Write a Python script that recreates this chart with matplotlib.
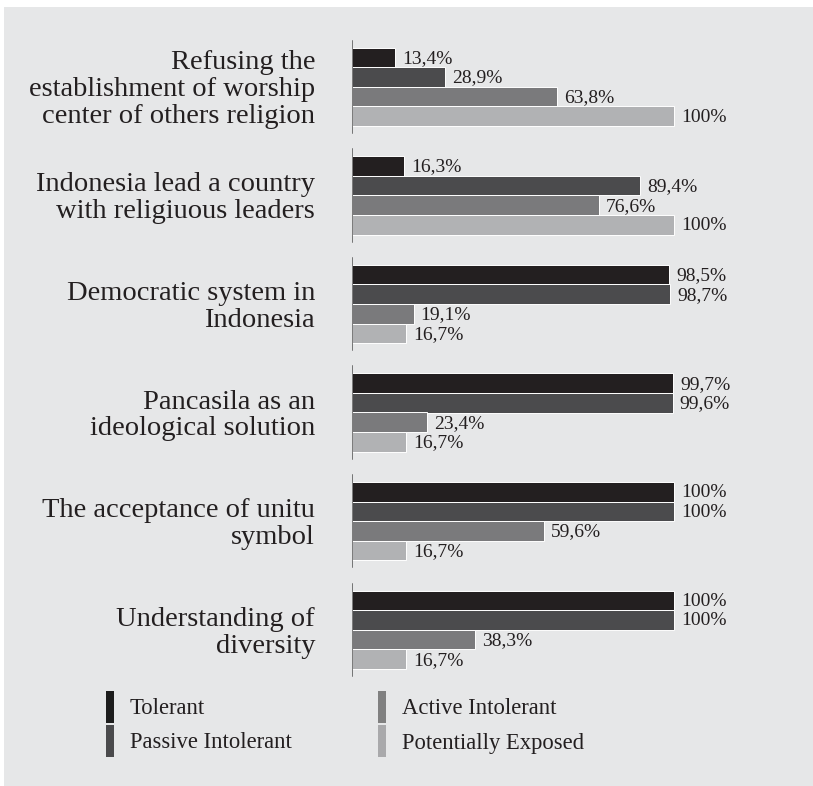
import matplotlib.pyplot as plt
from matplotlib.patches import Rectangle

categories = [
    "Refusing the\nestablishment of worship\ncenter of others religion",
    "Indonesia lead a country\nwith religiuous leaders",
    "Democratic system in\nIndonesia",
    "Pancasila as an\nideological solution",
    "The acceptance of unitu\nsymbol",
    "Understanding of\ndiversity",
]
series_names = ["Tolerant", "Passive Intolerant", "Active Intolerant", "Potentially Exposed"]
tolerant = [13.4, 16.3, 98.5, 99.7, 100, 100]
passive = [28.9, 89.4, 98.7, 99.6, 100, 100]
active = [63.8, 76.6, 19.1, 23.4, 59.6, 38.3]
exposed = [100, 100, 16.7, 16.7, 16.7, 16.7]
labels = [
    ["13,4%", "16,3%", "98,5%", "99,7%", "100%", "100%"],
    ["28,9%", "89,4%", "98,7%", "99,6%", "100%", "100%"],
    ["63,8%", "76,6%", "19,1%", "23,4%", "59,6%", "38,3%"],
    ["100%", "100%", "16,7%", "16,7%", "16,7%", "16,7%"],
]

colors = ["#231f20", "#4b4b4d", "#7a7a7c", "#b1b2b4"]
legend_colors = ["#1c1c1c", "#4a4a4c", "#808080", "#a9a9ab"]
bg = "#e6e7e8"

plt.rcParams['font.family'] = ['Liberation Serif', 'DejaVu Serif']

W, H = 813, 786
fig = plt.figure(figsize=(W / 100, H / 100), dpi=100)
fig.patch.set_facecolor("white")
# grey panel
fig.patches.append(Rectangle((4 / W, 0), 1, 1 - 7 / H, transform=fig.transFigure,
                             facecolor=bg, edgecolor="none", zorder=-5))

# axes in pixel-like units: y = pixels from top, x = percent
px_per_pct = 3.22
ax = fig.add_axes([352 / W, 0, (805 - 352) / W, 1])
ax.set_zorder(2)
ax.set_xlim(0, (805 - 352) / px_per_pct)
ax.set_ylim(H, 0)
ax.axis("off")
ax.patch.set_alpha(0)

group_top0 = 47.5
group_step = 108.6
bar_h = 19.6
all_series = [tolerant, passive, active, exposed]

for g in range(len(categories)):
    top = group_top0 + g * group_step
    for s, vals in enumerate(all_series):
        yc = top + s * bar_h + bar_h / 2
        ax.barh(yc, vals[g], height=bar_h, color=colors[s], edgecolor="white",
                linewidth=0.7, zorder=2)
        ax.text(vals[g] + 2.2, yc + 1, labels[s][g], ha="left", va="center",
                fontsize=14, color="#231f20")
    ax.plot([0, 0], [top - 7, top + 4 * bar_h + 7], color="#555555", lw=1.1, zorder=3)
    fig.text(315 / W, 1 - (top + 2 * bar_h + 3) / H, categories[g], ha="right", va="center",
             fontsize=20.5, color="#231f20", linespacing=1.1)

# legend
leg_pos = [(106, 691), (106, 725), (378, 691), (378, 725)]
for i, name in enumerate(series_names):
    x0, y0 = leg_pos[i]
    fig.patches.append(Rectangle((x0 / W, 1 - (y0 + 32) / H), 8 / W, 32 / H,
                                 transform=fig.transFigure, facecolor=legend_colors[i],
                                 edgecolor="none"))
    fig.text((x0 + 24) / W, 1 - (y0 + 18) / H, name, ha="left", va="center",
             fontsize=16.3, color="#231f20")

fig.savefig("out.png", dpi=100, facecolor=fig.get_facecolor())
